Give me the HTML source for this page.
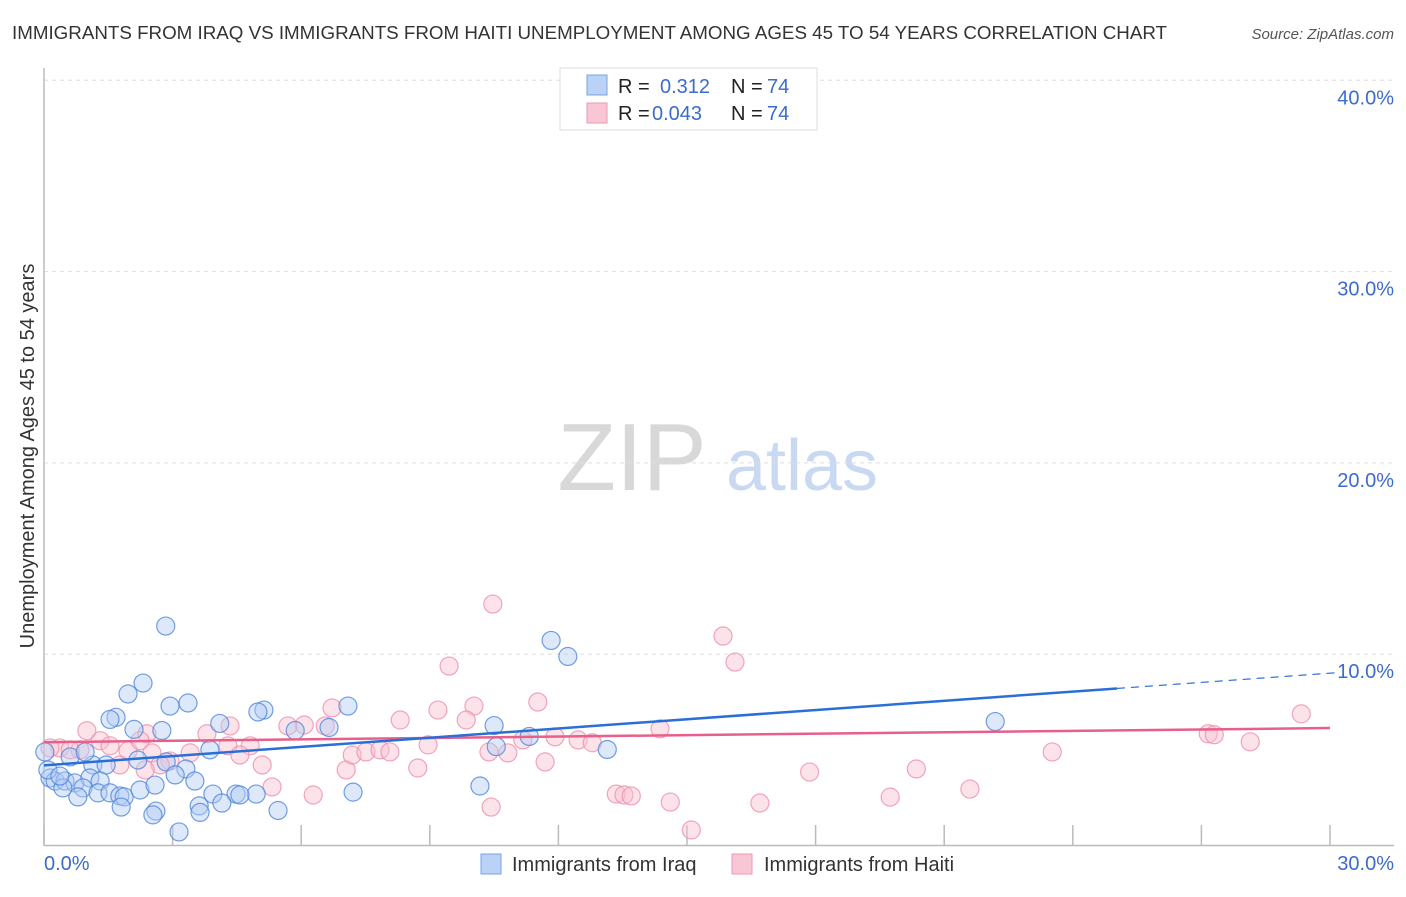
<!DOCTYPE html>
<html><head><meta charset="utf-8"><style>
body{margin:0;background:#fff;font-family:"Liberation Sans",sans-serif;}
svg text{font-family:"Liberation Sans",sans-serif;}
</style></head><body>
<svg id="chart" width="1406" height="892" xmlns="http://www.w3.org/2000/svg">
<text x="12" y="39" font-size="18" fill="#333" textLength="1155" lengthAdjust="spacingAndGlyphs">IMMIGRANTS FROM IRAQ VS IMMIGRANTS FROM HAITI UNEMPLOYMENT AMONG AGES 45 TO 54 YEARS CORRELATION CHART</text>
<text x="1394" y="39" font-size="15" fill="#555" text-anchor="end" font-style="italic">Source: ZipAtlas.com</text>
<g>
<text x="632" y="490" font-size="96" fill="#d8d8d8" font-family="Liberation Serif" text-anchor="middle">ZIP</text>
<text x="802" y="490" font-size="72" fill="#c9d9f2" text-anchor="middle">atlas</text>
</g>
<g id="grid"></g>
<g id="ticks"></g>
<g id="pts"></g>
<g id="lines"></g>
<text transform="translate(34,456) rotate(-90)" font-size="20" fill="#333" text-anchor="middle">Unemployment Among Ages 45 to 54 years</text>
<text x="44" y="870" font-size="20" fill="#3a6bd1">0.0%</text>
<text x="1394" y="870" font-size="20" fill="#3a6bd1" text-anchor="end">30.0%</text>
<g>
<rect x="560" y="68" width="257" height="62" fill="#fff" stroke="#ddd"/>
<rect x="587" y="75" width="20" height="20" fill="#b9d2f5" stroke="#7aa3e6"/>
<rect x="587" y="103" width="20" height="20" fill="#f9c6d5" stroke="#ee98b2"/>
<text x="618" y="93" font-size="20" fill="#222">R =</text><text x="660" y="93" font-size="20" fill="#3a6bd1">0.312</text>
<text x="731" y="93" font-size="20" fill="#222">N =</text><text x="767" y="93" font-size="20" fill="#3a6bd1">74</text>
<text x="618" y="120" font-size="20" fill="#222">R =</text><text x="652" y="120" font-size="20" fill="#3a6bd1">0.043</text>
<text x="731" y="120" font-size="20" fill="#222">N =</text><text x="767" y="120" font-size="20" fill="#3a6bd1">74</text>
</g>
<g>
<rect x="481" y="854" width="20" height="20" fill="#b9d2f5" stroke="#7aa3e6"/>
<text x="512" y="871" font-size="20" fill="#333">Immigrants from Iraq</text></g>
<g>
<rect x="732" y="854" width="20" height="20" fill="#f9c6d5" stroke="#ee98b2"/>
<text x="764" y="871" font-size="20" fill="#333">Immigrants from Haiti</text></g>
</svg>
<script>
const yTicks=[10,20,30,40];
const yTickLabels=["10.0%","20.0%","30.0%","40.0%"];
const xTicks=[0,3,6,9,12,15,18,21,24,27,30];
const iraqX=[2.84,2.31,1.96,3.36,2.94,1.68,7.09,5.13,4.99,1.54,4.10,6.65,2.10,2.75,5.86,13.14,11.83,12.22,10.50,10.55,11.32,22.19,2.19,1.14,1.45,2.85,3.31,3.06,3.87,0.14,0.26,0.49,0.72,1.07,1.31,0.91,1.26,1.54,1.77,0.79,0.44,1.87,2.24,2.59,3.52,3.94,4.48,4.95,4.15,1.80,2.61,4.57,3.62,3.64,5.46,2.54,3.15,7.21,10.17,0.02,0.09,0.61,0.96,0.37];
const iraqY=[11.47,8.49,7.92,7.45,7.29,6.70,7.29,7.08,6.98,6.59,6.38,6.17,6.07,6.01,6.01,5.02,10.72,9.88,6.27,5.17,5.70,6.48,4.47,4.21,4.21,4.37,4.00,3.69,5.00,3.53,3.37,3.37,3.27,3.53,3.37,3.01,2.75,2.75,2.59,2.54,3.01,2.54,2.90,3.16,3.37,2.69,2.69,2.69,2.22,2.01,1.80,2.64,2.07,1.73,1.83,1.60,0.71,2.79,3.11,4.89,3.95,4.63,4.89,3.63];
const haitiX=[12.41,10.47,15.84,16.12,9.45,29.33,11.52,10.03,9.19,6.72,8.31,9.85,11.92,12.46,12.79,14.37,27.16,27.30,28.14,23.52,6.56,6.07,5.69,4.34,4.29,4.81,3.80,2.40,1.31,1.00,1.54,1.96,2.24,2.52,2.94,3.41,0.84,0.37,0.14,0.61,4.57,5.09,5.32,6.28,7.05,7.19,7.51,7.84,8.07,8.72,8.96,10.38,10.82,11.17,11.69,10.43,13.35,13.53,13.70,14.61,15.10,16.70,17.86,19.74,20.35,21.60,1.77,2.71,2.36];
const haitiY=[39.49,12.62,10.95,9.59,9.38,6.88,7.50,7.29,7.08,7.19,6.56,6.56,5.68,5.52,5.37,6.10,5.84,5.79,5.42,4.89,6.25,6.30,6.25,6.25,5.21,5.21,5.84,5.84,5.48,6.00,5.21,4.95,5.48,4.84,4.42,4.84,5.00,5.10,5.10,5.00,4.73,4.21,3.06,2.64,3.95,4.73,4.89,5.00,4.89,4.05,5.26,4.89,4.84,5.52,4.37,2.01,2.69,2.64,2.59,2.27,0.81,2.22,3.84,2.53,4.00,2.95,4.21,4.21,3.95];
const iraqTrend=[[0,4.19],[25.03,8.21]];
const iraqDash=[[25.03,8.21],[30.2,9.04]];
const haitiTrend=[[0,5.40],[30,6.14]];
const X=v=>44+v/30*1286, Y=v=>845.5-v*19.13;
const NS="http://www.w3.org/2000/svg";
function mk(tag,attrs,parent){const e=document.createElementNS(NS,tag);for(const k in attrs)e.setAttribute(k,attrs[k]);document.getElementById(parent).appendChild(e);return e;}
yTicks.forEach((t,i)=>{
 const l=mk('line',{x1:44,x2:1394,y1:Y(t),y2:Y(t),stroke:'#ddd','stroke-dasharray':'4,4'},'grid');
 
 
 const tx=mk('text',{x:1394,y:Y(t)+24,'font-size':20,fill:'#3a6bd1','text-anchor':'end'},'grid');
 tx.textContent=yTickLabels[i];
 
 
});
const ax=mk('line',{x1:44,x2:1394,y1:845.5,y2:845.5,stroke:'#bbb','stroke-width':1.5},'ticks');


const ay=mk('line',{x1:44,x2:44,y1:68,y2:845.5,stroke:'#bbb','stroke-width':1.5},'ticks');


xTicks.forEach(t=>{
 const l=mk('line',{x1:X(t),x2:X(t),y1:825,y2:845.5,stroke:'#bbb','stroke-width':1.5},'ticks');
 
 
});
function pts(xs,ys,fill,stroke,name){xs.forEach((x,i)=>{
 const c=mk('circle',{cx:X(x),cy:Y(ys[i]),r:9,fill:fill,'fill-opacity':0.45,stroke:stroke,'stroke-opacity':0.8,'stroke-width':1.2},'pts');
 
 
});}
pts(haitiX,haitiY,'#f9c0d1','#ee8fae','haiti-point');
pts(iraqX,iraqY,'#b3cdf3','#4f86dc','iraq-point');
function ln(p,color,dash,name){const l=mk('line',{x1:X(p[0][0]),y1:Y(p[0][1]),x2:X(p[1][0]),y2:Y(p[1][1]),stroke:color,'stroke-width':dash?1.2:2.5,'stroke-dasharray':dash?'8,6':'none'},'lines');
 
 }
ln(haitiTrend,'#e8608a',false,'haiti-trendline');
ln(iraqTrend,'#2a6fd6',false,'iraq-trendline');
ln(iraqDash,'#2a6fd6',true,'iraq-trendline-extension');
</script>
</body></html>
